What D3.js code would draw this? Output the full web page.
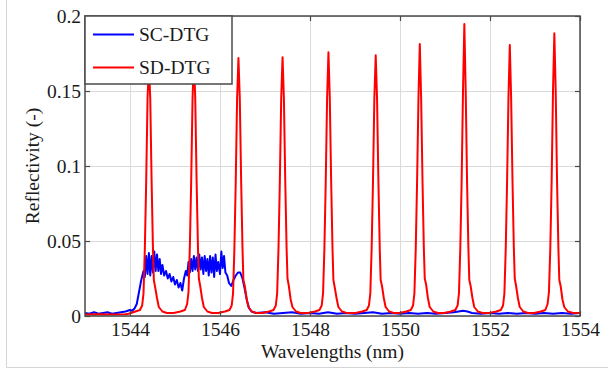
<!DOCTYPE html>
<html><head><meta charset="utf-8">
<script src="https://cdn.jsdelivr.net/npm/d3@7"></script>
<style>body{margin:0;background:#fff}svg{display:block}</style>
</head><body>
<svg id="chart" width="608" height="369"></svg>
<script>
const xTicks = [1544, 1546, 1548, 1550, 1552, 1554];
const yTicks = [0, 0.05, 0.1, 0.15, 0.2];
const seriesNames = ["SC-DTG", "SD-DTG"];
const seriesColors = ["#0000ff", "#ff0000"];

// SC-DTG (blue) [wavelength nm, reflectivity]
const scDTG = [
[1543.0,0.002],[1543.1,0.0015],[1543.2,0.0025],[1543.3,0.0015],[1543.4,0.002],[1543.5,0.0025],
[1543.6,0.0015],[1543.7,0.002],[1543.8,0.0025],[1543.9,0.003],[1544.0,0.004],[1544.05,0.0035],
[1544.1,0.005],[1544.15,0.008],[1544.2,0.016],[1544.25,0.024],[1544.3,0.03],[1544.33,0.026],
[1544.36,0.04],[1544.39,0.028],[1544.42,0.042],[1544.45,0.027],[1544.48,0.04],[1544.51,0.029],
[1544.54,0.043],[1544.57,0.03],[1544.6,0.041],[1544.63,0.03],[1544.66,0.038],[1544.69,0.028],
[1544.72,0.034],[1544.76,0.027],[1544.8,0.03],[1544.84,0.025],[1544.88,0.028],[1544.92,0.023],
[1544.96,0.026],[1545.0,0.021],[1545.04,0.024],[1545.08,0.019],[1545.12,0.022],[1545.16,0.017],
[1545.2,0.025],[1545.24,0.03],[1545.27,0.027],[1545.3,0.036],[1545.33,0.029],[1545.36,0.038],
[1545.39,0.03],[1545.42,0.04],[1545.45,0.031],[1545.48,0.039],[1545.51,0.03],[1545.54,0.041],
[1545.57,0.031],[1545.6,0.039],[1545.63,0.028],[1545.66,0.04],[1545.69,0.03],[1545.72,0.038],
[1545.75,0.027],[1545.78,0.04],[1545.81,0.029],[1545.84,0.039],[1545.87,0.026],[1545.9,0.041],
[1545.93,0.03],[1545.96,0.036],[1546.0,0.028],[1546.03,0.043],[1546.06,0.032],[1546.09,0.04],
[1546.12,0.029],[1546.16,0.027],[1546.2,0.022],[1546.25,0.02],[1546.3,0.024],[1546.35,0.027],
[1546.4,0.029],[1546.45,0.029],[1546.5,0.025],[1546.55,0.018],[1546.6,0.01],[1546.65,0.005],
[1546.7,0.003],[1546.8,0.002],[1547.0,0.0025],[1547.2,0.0015],[1547.4,0.002],[1547.6,0.0025],
[1547.8,0.0015],[1548.0,0.002],[1548.2,0.0015],[1548.4,0.0025],[1548.6,0.0015],[1548.8,0.002],
[1549.0,0.0015],[1549.2,0.002],[1549.4,0.0025],[1549.6,0.0015],[1549.8,0.002],[1550.0,0.0015],
[1550.2,0.002],[1550.4,0.0015],[1550.6,0.002],[1550.8,0.0015],[1551.0,0.002],[1551.2,0.0025],
[1551.4,0.0035],[1551.5,0.003],[1551.6,0.002],[1551.8,0.0015],[1552.0,0.002],[1552.2,0.0015],
[1552.4,0.002],[1552.6,0.0015],[1552.8,0.002],[1553.0,0.0015],[1553.2,0.002],[1553.4,0.0015],
[1553.6,0.002],[1553.8,0.0015],[1554.0,0.002]
];

// SD-DTG (red) [wavelength nm, reflectivity]
const sdDTG = [
[1543.0,0.001],[1543.3,0.0012],[1543.6,0.001],[1543.9,0.0012],
[1543.97,0.0015],[1544.12,0.003],[1544.22,0.004],[1544.27,0.007],[1544.30,0.015],[1544.33,0.045],[1544.36,0.09],[1544.39,0.145],[1544.42,0.168],[1544.45,0.145],[1544.48,0.09],[1544.51,0.045],[1544.53,0.024],[1544.56,0.019],[1544.60,0.012],[1544.64,0.006],[1544.72,0.003],[1544.82,0.002],
[1544.97,0.002],[1545.12,0.003],[1545.22,0.004],[1545.27,0.008],[1545.30,0.016],[1545.33,0.046],[1545.36,0.09],[1545.39,0.145],[1545.42,0.172],[1545.45,0.145],[1545.48,0.09],[1545.51,0.046],[1545.53,0.025],[1545.56,0.02],[1545.60,0.012],[1545.64,0.006],[1545.72,0.003],[1545.82,0.002],
[1545.96,0.002],[1546.11,0.003],[1546.21,0.004],[1546.26,0.007],[1546.29,0.015],[1546.32,0.045],[1546.35,0.09],[1546.38,0.145],[1546.41,0.172],[1546.44,0.145],[1546.47,0.09],[1546.50,0.045],[1546.52,0.024],[1546.55,0.02],[1546.59,0.012],[1546.63,0.006],[1546.71,0.003],[1546.81,0.002],
[1546.94,0.002],[1547.09,0.003],[1547.19,0.004],[1547.24,0.007],[1547.27,0.015],[1547.30,0.045],[1547.33,0.09],[1547.36,0.145],[1547.39,0.1725],[1547.42,0.145],[1547.45,0.09],[1547.48,0.045],[1547.50,0.025],[1547.53,0.02],[1547.57,0.011],[1547.61,0.006],[1547.69,0.003],[1547.79,0.002],
[1547.96,0.002],[1548.11,0.003],[1548.21,0.004],[1548.26,0.007],[1548.29,0.015],[1548.32,0.045],[1548.35,0.09],[1548.38,0.145],[1548.41,0.1758],[1548.44,0.145],[1548.47,0.09],[1548.50,0.045],[1548.52,0.024],[1548.55,0.019],[1548.59,0.012],[1548.63,0.006],[1548.71,0.003],[1548.81,0.002],
[1549.01,0.002],[1549.16,0.003],[1549.26,0.004],[1549.31,0.007],[1549.34,0.015],[1549.37,0.045],[1549.40,0.09],[1549.43,0.145],[1549.46,0.1738],[1549.49,0.145],[1549.52,0.09],[1549.55,0.045],[1549.57,0.024],[1549.60,0.02],[1549.64,0.012],[1549.68,0.006],[1549.76,0.003],[1549.86,0.002],
[1549.99,0.002],[1550.14,0.003],[1550.24,0.004],[1550.29,0.007],[1550.32,0.015],[1550.35,0.045],[1550.38,0.09],[1550.41,0.145],[1550.44,0.1813],[1550.47,0.145],[1550.50,0.09],[1550.53,0.045],[1550.55,0.025],[1550.58,0.021],[1550.62,0.012],[1550.66,0.006],[1550.74,0.003],[1550.84,0.002],
[1550.98,0.002],[1551.13,0.003],[1551.23,0.004],[1551.28,0.007],[1551.31,0.015],[1551.34,0.045],[1551.37,0.09],[1551.40,0.15],[1551.43,0.1947],[1551.46,0.15],[1551.49,0.09],[1551.52,0.045],[1551.54,0.024],[1551.57,0.02],[1551.61,0.012],[1551.65,0.006],[1551.73,0.003],[1551.83,0.002],
[1551.99,0.002],[1552.14,0.003],[1552.24,0.004],[1552.29,0.007],[1552.32,0.015],[1552.35,0.045],[1552.38,0.09],[1552.41,0.145],[1552.44,0.1807],[1552.47,0.145],[1552.50,0.09],[1552.53,0.045],[1552.55,0.025],[1552.58,0.02],[1552.62,0.012],[1552.66,0.006],[1552.74,0.003],[1552.84,0.002],
[1552.98,0.002],[1553.13,0.003],[1553.23,0.004],[1553.28,0.008],[1553.31,0.016],[1553.34,0.045],[1553.37,0.09],[1553.40,0.15],[1553.43,0.1885],[1553.46,0.15],[1553.49,0.09],[1553.52,0.045],[1553.54,0.024],[1553.57,0.02],[1553.61,0.011],[1553.65,0.006],[1553.73,0.003],[1553.85,0.002],[1554.0,0.002]
];

const svg = d3.select("#chart");
const W = 608, H = 369;
const m = {left: 85, top: 16, right: 28, bottom: 53};
const pw = W - m.left - m.right, ph = H - m.top - m.bottom;
const font = "Liberation Serif";
const fs = 19.5;
const axisColor = "#4a4a4a";
const textColor = "#1a1a1a";

// figure frame lines
svg.append("line").attr("x1",6.5).attr("x2",6.5).attr("y1",0).attr("y2",367.5).attr("stroke","#d4d4d4");
svg.append("line").attr("x1",6.5).attr("x2",608).attr("y1",367.5).attr("y2",367.5).attr("stroke","#d4d4d4");

const x = d3.scaleLinear().domain([1543, 1554]).range([m.left, m.left + pw]);
const y = d3.scaleLinear().domain([0, 0.2]).range([m.top + ph, m.top]);

const g = svg.append("g");
// grid
g.selectAll(".gx").data(xTicks).join("line")
  .attr("x1", d => Math.round(x(d)) + 0.5).attr("x2", d => Math.round(x(d)) + 0.5)
  .attr("y1", m.top).attr("y2", m.top + ph).attr("stroke", "#dadada").attr("stroke-width", 1);
g.selectAll(".gy").data(yTicks).join("line")
  .attr("y1", d => Math.round(y(d)) + 0.5).attr("y2", d => Math.round(y(d)) + 0.5)
  .attr("x1", m.left).attr("x2", m.left + pw).attr("stroke", "#dadada").attr("stroke-width", 1);

// clip
svg.append("defs").append("clipPath").attr("id","clip").append("rect")
  .attr("x", m.left).attr("y", m.top).attr("width", pw).attr("height", ph);

const line = d3.line().x(d => x(d[0])).y(d => y(d[1]));
const lines = svg.append("g").attr("clip-path","url(#clip)");
lines.append("path").datum(scDTG).attr("d", line).attr("fill","none")
  .attr("stroke", seriesColors[0]).attr("stroke-width", 2).attr("stroke-linejoin","round");
lines.append("path").datum(sdDTG).attr("d", line).attr("fill","none")
  .attr("stroke", seriesColors[1]).attr("stroke-width", 2).attr("stroke-linejoin","round");

// axes (ticks inward)
const tl = 5;
const xAxisB = d3.axisBottom(x).tickValues(xTicks).tickSize(-tl).tickPadding(6.5).tickFormat(d3.format("d"));
const xAxisT = d3.axisTop(x).tickValues(xTicks).tickSize(-tl).tickFormat("");
const yAxisL = d3.axisLeft(y).tickValues(yTicks).tickSize(-tl).tickPadding(4).tickFormat(d3.format("~g"));
const yAxisR = d3.axisRight(y).tickValues(yTicks).tickSize(-tl).tickFormat("");

function style(sel){
  sel.attr("font-family", font);
  sel.select(".domain").remove();
  sel.selectAll("line").attr("stroke", axisColor).attr("stroke-width", 1.2);
  sel.selectAll("text").attr("fill", textColor).attr("font-family", font).attr("font-size", fs);
}
svg.append("g").attr("transform",`translate(0,${m.top+ph})`).call(xAxisB).call(style);
svg.append("g").attr("transform",`translate(0,${m.top})`).call(xAxisT).call(style);
svg.append("g").attr("transform",`translate(${m.left},0)`).call(yAxisL).call(style);
svg.append("g").attr("transform",`translate(${m.left+pw},0)`).call(yAxisR).call(style);

// box
svg.append("rect").attr("x", m.left).attr("y", m.top).attr("width", pw).attr("height", ph)
  .attr("fill","none").attr("stroke", axisColor).attr("stroke-width", 1.5);

// axis titles
svg.append("text").attr("x", m.left + pw/2).attr("y", 358).attr("text-anchor","middle")
  .attr("font-family", font).attr("font-size", fs).attr("fill", textColor).text("Wavelengths (nm)");
svg.append("text").attr("transform",`translate(39,${m.top+ph/2}) rotate(-90)`).attr("text-anchor","middle")
  .attr("font-family", font).attr("font-size", fs).attr("fill", textColor).text("Reflectivity (-)");

// legend
const lg = svg.append("g");
lg.append("rect").attr("x", m.left).attr("y", m.top).attr("width", 147).attr("height", 68)
  .attr("fill","#fff").attr("stroke", axisColor).attr("stroke-width", 1.5);
seriesNames.forEach((n, i) => {
  const ly = 34.5 + i * 33;
  lg.append("line").attr("x1", 93).attr("x2", 134).attr("y1", ly).attr("y2", ly)
    .attr("stroke", seriesColors[i]).attr("stroke-width", 2);
  lg.append("text").attr("x", 139).attr("y", ly + 6.5).attr("font-family", font)
    .attr("font-size", fs).attr("fill", textColor).text(n);
});
</script>
</body></html>
